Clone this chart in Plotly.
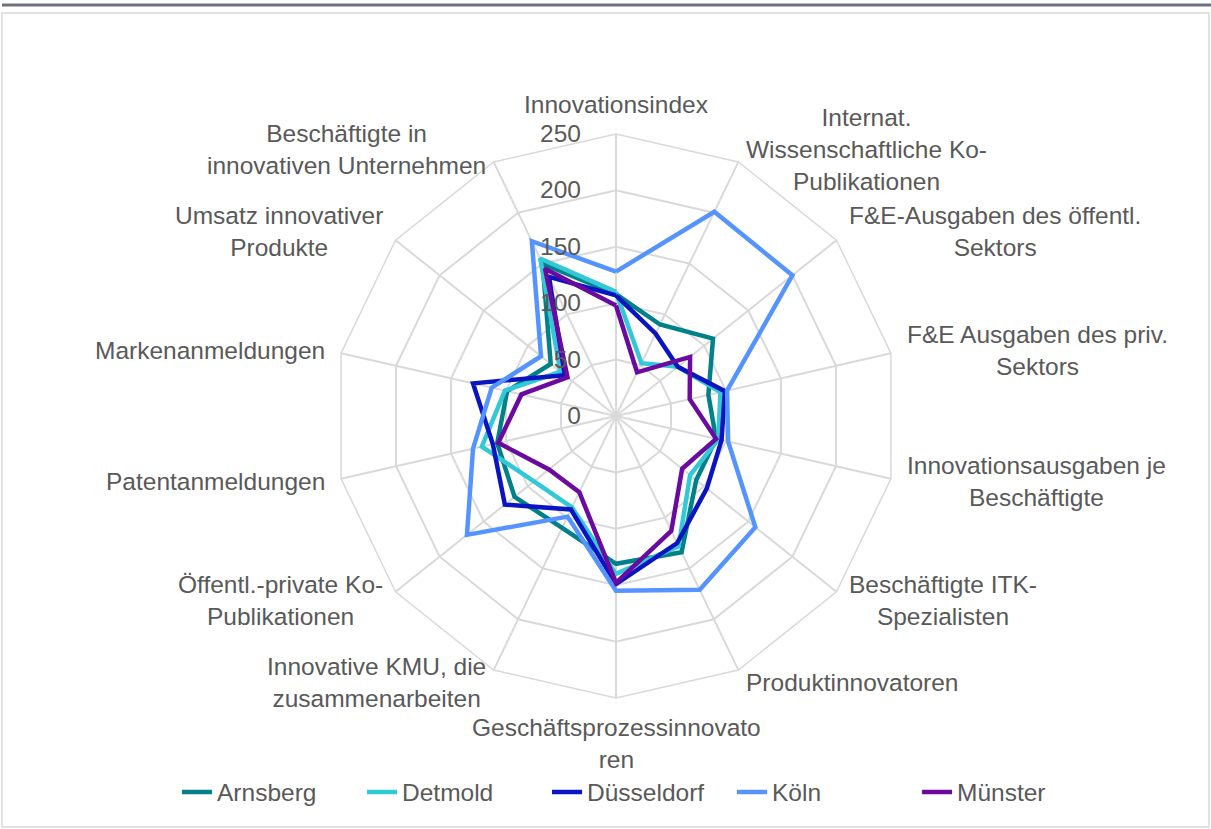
import math
import plotly.graph_objects as go

categories = [
    "Innovationsindex",
    "Internat.<br>Wissenschaftliche Ko-<br>Publikationen",
    "F&E-Ausgaben des öffentl.<br>Sektors",
    "F&E Ausgaben des priv.<br>Sektors",
    "Innovationsausgaben je<br>Beschäftigte",
    "Beschäftigte ITK-<br>Spezialisten",
    "Produktinnovatoren",
    "Geschäftsprozessinnovato<br>ren",
    "Innovative KMU, die<br>zusammenarbeiten",
    "Öffentl.-private Ko-<br>Publikationen",
    "Patentanmeldungen",
    "Markenanmeldungen",
    "Umsatz innovativer<br>Produkte",
    "Beschäftigte in<br>innovativen Unternehmen",
]

arnsberg = [108, 90, 110, 84, 91, 91, 134, 131, 110, 115, 108, 99, 74, 150]
detmold = [110, 52, 70, 95, 93, 84, 128, 140, 90, 93, 122, 101, 63, 155]
duesseldorf = [107, 81, 70, 99, 96, 103, 125, 149, 92, 126, 112, 130, 58, 137]
koeln = [128, 201, 200, 101, 102, 158, 171, 155, 99, 169, 130, 113, 85, 172]
muenster = [98, 43, 84, 67, 91, 75, 113, 148, 75, 76, 107, 86, 55, 145]

series_names = ["Arnsberg", "Detmold", "Düsseldorf", "Köln", "Münster"]
series_values = [arnsberg, detmold, duesseldorf, koeln, muenster]
series_colors = ["#00818A", "#33C8D6", "#0A14C0", "#5594FF", "#6A0AA0"]

radial_ticks = [0, 50, 100, 150, 200, 250]

W, H = 1211, 829
FONT = "Liberation Sans, Arial, sans-serif"
GRAY = "#595959"
GRID = "#D9D9D9"
FS = 24.5

fig = go.Figure()
for name, vals, col in zip(series_names, series_values, series_colors):
    fig.add_trace(go.Scatterpolar(
        r=vals + vals[:1],
        theta=categories + categories[:1],
        mode="lines",
        name=name,
        line=dict(color=col, width=4.5),
    ))

# polar geometry (pixels) used for the domain and for the category label placement
cx, cy, R = 616, 416, 282
PAD = 14

annotations = []
n = len(categories)
for i, label in enumerate(categories):
    ang = math.radians(i * 360 / n)  # clockwise from top
    s, c = math.sin(ang), math.cos(ang)
    px = cx + (R + PAD) * s
    py = cy - (R + PAD) * c
    if s > 0.1:
        xa = "left"
    elif s < -0.1:
        xa = "right"
    else:
        xa = "center"
    if c > 0.95:
        ya = "bottom"
    elif c < -0.95:
        ya = "top"
    else:
        ya = "middle"
    annotations.append(dict(
        text=label, x=px / W, y=(H - py) / H, xref="paper", yref="paper",
        xanchor=xa, yanchor=ya, align="center", showarrow=False,
        font=dict(family=FONT, size=FS, color=GRAY),
    ))

fig.update_layout(
    width=W, height=H,
    margin=dict(l=0, r=0, t=0, b=0),
    paper_bgcolor="white",
    font=dict(family=FONT, size=FS, color=GRAY),
    polar=dict(
        domain=dict(x=[(cx - R) / W, (cx + R) / W],
                    y=[(H - cy - R) / H, (H - cy + R) / H]),
        bgcolor="white",
        gridshape="linear",
        angularaxis=dict(
            direction="clockwise", rotation=90,
            showline=True, linecolor=GRID, linewidth=1.5,
            gridcolor=GRID, gridwidth=1.5,
            ticks="", showticklabels=False,
        ),
        radialaxis=dict(
            range=[0, 250], tickvals=radial_ticks,
            angle=90, tickangle=90, side="counterclockwise",
            showline=False, ticks="outside", ticklen=26, tickcolor="rgba(0,0,0,0)",
            gridcolor=GRID, gridwidth=1.5,
            tickfont=dict(size=FS, color=GRAY),
        ),
    ),
    annotations=annotations,
    showlegend=True,
    legend=dict(
        orientation="h", x=177 / W, xanchor="left", y=(H - 792) / H, yanchor="middle",
        font=dict(size=FS, color=GRAY), bgcolor="rgba(0,0,0,0)",
        entrywidth=140, entrywidthmode="pixels",
    ),
    shapes=[
        dict(type="line", xref="paper", yref="paper", x0=2 / W, x1=1, y0=1 - 5 / H, y1=1 - 5 / H,
             line=dict(color="#6B747C", width=3)),
        dict(type="rect", xref="paper", yref="paper", x0=2 / W, x1=1209 / W, y0=2 / H, y1=1 - 13 / H,
             line=dict(color="#D9D9D9", width=1.5)),
    ],
)

fig.write_html(
    "out.html",
    config={"displayModeBar": False},
    post_script="document.body.style.margin='0';document.body.style.overflow='hidden';",
)
